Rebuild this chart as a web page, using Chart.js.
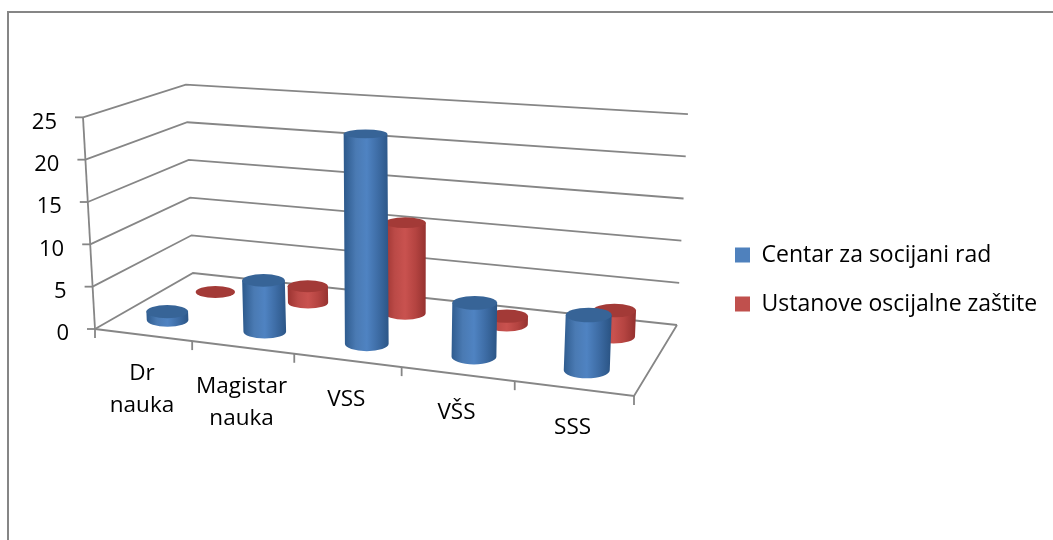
<!DOCTYPE html>
<html>
<head>
<meta charset="utf-8">
<title>Chart</title>
<script src="https://cdn.jsdelivr.net/npm/chart.js@4"></script>
<style>
  html, body { margin: 0; padding: 0; background: #fff; overflow: hidden; }
  canvas { display: block; }
</style>
</head>
<body>
<canvas id="chart" width="1053" height="540"></canvas>
<script>
var categories = [['Dr', 'nauka'], ['Magistar', 'nauka'], 'VSS', 'VŠS', 'SSS'];
var seriesNames = ['Centar za socijani rad', 'Ustanove oscijalne zaštite'];
var centarValues = [1, 6, 24, 6, 6];
var ustanoveValues = [0, 2, 11, 1, 3];

var FONT = '"Open Sans", sans-serif';
var LEGEND_FONT_SIZE = 23;
var LEGEND_GAP = 49;
var GRID = '#868686';

// floor of the 3d box: front-left, front-right, back-right, back-left
var floorQuad = [[95, 329], [634, 396], [677, 325], [193, 273]];
// uprights lean away from this point, and are this tall at the front-left corner
var vanish = [399, 5693];
var wallHeight = 212;
var depths = [0.24, 0.73];
var seriesShift = [0, 0.004];
var barRadius = 21.2;
var bandDepth = 0.11;

var sideColors = [['#2f5c8f', '#4a7ab3', '#4f83c2', '#3e6da6', '#2c5687'],
                  ['#9c3431', '#bb4a47', '#c9524f', '#b54441', '#963230']];
var capColors = ['#376497', '#a33a37'];

function homography(q) {
  var x0 = q[0][0], y0 = q[0][1], x1 = q[1][0], y1 = q[1][1];
  var x2 = q[2][0], y2 = q[2][1], x3 = q[3][0], y3 = q[3][1];
  var dx1 = x1 - x2, dx2 = x3 - x2, sx = x0 - x1 + x2 - x3;
  var dy1 = y1 - y2, dy2 = y3 - y2, sy = y0 - y1 + y2 - y3;
  var den = dx1 * dy2 - dx2 * dy1;
  var g = (sx * dy2 - dx2 * sy) / den;
  var h = (dx1 * sy - sx * dy1) / den;
  var a = x1 - x0 + g * x1, b = x3 - x0 + h * x3;
  var d = y1 - y0 + g * y1, e = y3 - y0 + h * y3;
  return function (u, v) {
    var w = g * u + h * v + 1;
    return [(a * u + b * v + x0) / w, (d * u + e * v + y0) / w, w];
  };
}
var floorAt = homography(floorQuad);

// u along the categories, v into the depth, t up the value axis, all 0..1
function project(u, v, t) {
  var f = floorAt(u, v);
  var dx = f[0] - vanish[0], dy = f[1] - vanish[1];
  var len = Math.sqrt(dx * dx + dy * dy);
  var up = wallHeight / f[2] * t;
  return [f[0] + dx / len * up, f[1] + dy / len * up];
}

function line(ctx, pts) {
  ctx.beginPath();
  ctx.moveTo(pts[0][0], pts[0][1]);
  for (var i = 1; i < pts.length; i++) ctx.lineTo(pts[i][0], pts[i][1]);
  ctx.stroke();
}

function drawBox(chart) {
  var ctx = chart.ctx, y = chart.scales.y, n = categories.length;
  ctx.save();
  ctx.strokeStyle = GRID;
  // outer frame of the picture
  ctx.lineWidth = 2;
  line(ctx, [[8, 540], [8, 12], [1053, 12]]);
  ctx.lineWidth = 1.8;

  y.ticks.forEach(function (tick) {
    var t = (y.bottom - y.getPixelForValue(tick.value)) / (y.bottom - y.top);
    var a = project(0, 0, t);
    line(ctx, [a, project(0, 1, t), project(1, 1, t)]);
    line(ctx, [[a[0] - 8, a[1]], a]);
    ctx.fillStyle = '#000';
    ctx.font = '22px ' + FONT;
    ctx.textAlign = 'right';
    ctx.textBaseline = 'middle';
    ctx.fillText(tick.label, a[0] - 26, a[1] + 5);
  });
  line(ctx, [project(0, 0, 0), project(0, 0, 1)]);
  line(ctx, [project(0, 0, 0), project(1, 0, 0), project(1, 1, 0)]);
  for (var i = 0; i <= n; i++) {
    var p = project(i / n, 0, 0);
    line(ctx, [p, [p[0], p[1] + 9]]);
  }
  ctx.restore();
}

function drawCategoryLabels(chart) {
  var ctx = chart.ctx, x = chart.scales.x;
  ctx.save();
  ctx.fillStyle = '#000';
  ctx.font = '22.5px ' + FONT;
  ctx.textAlign = 'center';
  ctx.textBaseline = 'middle';
  categories.forEach(function (c, i) {
    var u = (x.getPixelForValue(i) - x.left) / x.width;
    var p = project(u, 0, 0);
    var rows = [].concat(x.getLabelForValue(i));
    rows.forEach(function (row, k) {
      ctx.fillText(row, p[0] - 1, p[1] + 39 + k * 32);
    });
  });
  ctx.restore();
}

function drawCylinder(ctx, u, v, t, ds) {
  var base = project(u, v, 0), top = project(u, v, t);
  var rx = barRadius / floorAt(u, v)[2];
  var bf = project(u, v - bandDepth, 0), bb = project(u, v + bandDepth, 0);
  var tf = project(u, v - bandDepth, t), tb = project(u, v + bandDepth, t);
  var bry = Math.abs(bf[1] - bb[1]) / 2;
  var try_ = Math.abs(tf[1] - tb[1]) / 2;

  if (t > 0) {
    var grad = ctx.createLinearGradient(base[0] - rx, 0, base[0] + rx, 0);
    var stops = sideColors[ds];
    stops.forEach(function (c, i) { grad.addColorStop(i / (stops.length - 1), c); });
    ctx.fillStyle = grad;
    ctx.beginPath();
    ctx.moveTo(top[0] - rx, top[1]);
    ctx.lineTo(base[0] - rx, base[1]);
    ctx.ellipse(base[0], base[1], rx, bry, 0, Math.PI, 0, true);
    ctx.lineTo(top[0] + rx, top[1]);
    ctx.closePath();
    ctx.fill();
  }
  ctx.fillStyle = capColors[ds];
  ctx.beginPath();
  ctx.ellipse(top[0], top[1], rx, try_, 0, 0, Math.PI * 2);
  ctx.fill();
}

var box3d = {
  id: 'box3d',
  afterLayout: function (chart) {
    // legend sits beside the box, not centred on the value axis
    var l = chart.legend, pad = l.options.labels.padding;
    l.left = 735 - pad;
    l.right = 1053;
    l.width = l.right - l.left;
    l.top = 255 - pad - LEGEND_FONT_SIZE / 2;
    l.bottom = l.top + 2 * LEGEND_GAP + pad;
    l.height = l.bottom - l.top;
  },
  beforeDatasetsDraw: function (chart) {
    var ctx = chart.ctx, x = chart.scales.x, y = chart.scales.y;
    drawBox(chart);
    drawCategoryLabels(chart);
    // back row first so the front row covers it
    for (var ds = chart.data.datasets.length - 1; ds >= 0; ds--) {
      chart.getDatasetMeta(ds).data.forEach(function (bar) {
        var u = (bar.x - x.left) / x.width + seriesShift[ds];
        var t = (y.bottom - bar.y) / (y.bottom - y.top);
        drawCylinder(ctx, u, depths[ds], t, ds);
      });
    }
    return false;
  }
};

new Chart(document.getElementById('chart'), {
  type: 'bar',
  data: {
    labels: categories,
    datasets: [
      { label: seriesNames[0], data: centarValues, backgroundColor: '#4f81bd', grouped: false },
      { label: seriesNames[1], data: ustanoveValues, backgroundColor: '#c0504d', grouped: false }
    ]
  },
  options: {
    responsive: false,
    animation: false,
    layout: { padding: { left: 95, top: 117, bottom: 211, right: 0 } },
    scales: {
      x: { ticks: { display: false }, grid: { display: false }, border: { display: false } },
      y: {
        min: 0,
        max: 25,
        ticks: { stepSize: 5, display: false },
        grid: { display: false },
        border: { display: false }
      }
    },
    plugins: {
      tooltip: { enabled: false },
      legend: {
        position: 'right',
        align: 'start',
        labels: {
          boxWidth: 15,
          boxHeight: 15,
          padding: LEGEND_GAP - LEGEND_FONT_SIZE,
          color: '#000',
          font: { family: FONT, size: LEGEND_FONT_SIZE }
        }
      }
    }
  },
  plugins: [box3d]
});
</script>
</body>
</html>
